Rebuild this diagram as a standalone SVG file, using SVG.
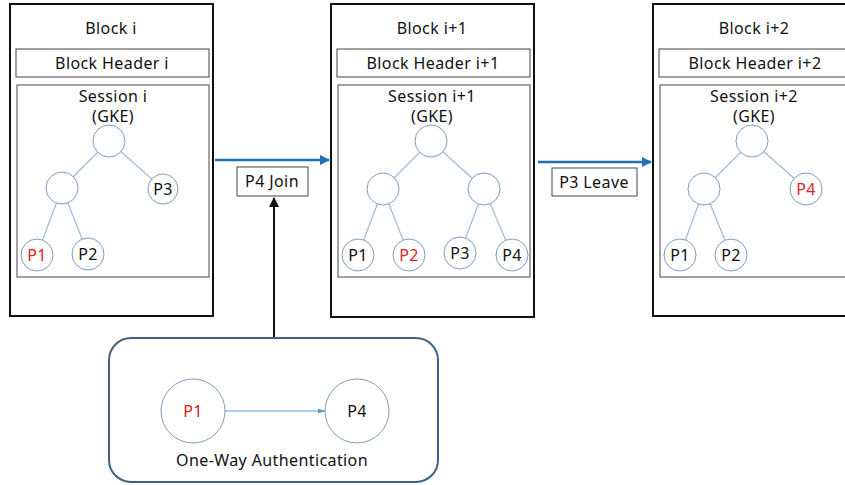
<svg xmlns="http://www.w3.org/2000/svg" width="845" height="485" viewBox="0 0 845 485">
<style>
text{font-family:"Noto Sans","Liberation Sans",Arial,sans-serif;font-size:16px;letter-spacing:0.4px;fill:#111;text-anchor:middle}
.red{fill:#e0201c}
.blk{fill:#fff;stroke:#111;stroke-width:2}
.hdr{fill:#fff;stroke:#444;stroke-width:1}
.ses{fill:#fff;stroke:#666;stroke-width:1.2}
.nd{fill:#fff;stroke:#7f9cc0;stroke-width:1}
.ed{stroke:#9dbbdc;stroke-width:1.2;fill:none}
.lbl{fill:#fff;stroke:#444;stroke-width:1}
</style>
<defs>
<marker id="ab" viewBox="0 0 10 10" refX="9" refY="5" markerWidth="4" markerHeight="4" orient="auto"><path d="M0,0L10,5L0,10z" fill="#1f6fb5"/></marker>
<marker id="ak" viewBox="0 0 10 10" refX="9" refY="5" markerWidth="5" markerHeight="5" orient="auto"><path d="M0,0L10,5L0,10z" fill="#111"/></marker>
<marker id="al" viewBox="0 0 10 10" refX="9" refY="5" markerWidth="8" markerHeight="8" orient="auto"><path d="M0,2L10,5L0,8z" fill="#5b9bd5"/></marker>
</defs>

<g id="block-i">
<rect class="blk" x="10" y="4" width="203" height="312"/>
<text x="111" y="34">Block i</text>
<rect class="hdr" x="16" y="49" width="193" height="28"/>
<text x="112" y="69">Block Header i</text>
<rect class="ses" x="17" y="85" width="192" height="192"/>
<text x="113" y="102">Session i</text>
<text x="113" y="122">(GKE)</text>
<path class="ed" d="M109,141L62,188M109,141L163,189M62,188L37,255M62,188L88,254"/>
<circle class="nd" cx="109" cy="141" r="16"/>
<circle class="nd" cx="62" cy="188" r="16"/>
<circle class="nd" cx="163" cy="189" r="15"/>
<circle class="nd" cx="37" cy="255" r="16"/>
<circle class="nd" cx="88" cy="254" r="16"/>
<text x="163" y="195">P3</text>
<text class="red" x="37" y="261">P1</text>
<text x="88" y="260">P2</text>
</g>

<g id="block-i1">
<rect class="blk" x="331" y="4" width="203" height="313"/>
<text x="432" y="34">Block i+1</text>
<rect class="hdr" x="337" y="49" width="193" height="28"/>
<text x="433" y="69">Block Header i+1</text>
<rect class="ses" x="338" y="85" width="192" height="192"/>
<text x="432" y="102">Session i+1</text>
<text x="432" y="122">(GKE)</text>
<path class="ed" d="M431,141L383,189M431,141L484,189M383,189L358,255M383,189L409,255M484,189L460,253M484,189L512,255"/>
<circle class="nd" cx="431" cy="141" r="16"/>
<circle class="nd" cx="383" cy="189" r="16"/>
<circle class="nd" cx="484" cy="189" r="16"/>
<circle class="nd" cx="358" cy="255" r="16"/>
<circle class="nd" cx="409" cy="255" r="16"/>
<circle class="nd" cx="460" cy="253" r="16"/>
<circle class="nd" cx="512" cy="255" r="16"/>
<text x="358" y="261">P1</text>
<text class="red" x="409" y="261">P2</text>
<text x="460" y="259">P3</text>
<text x="512" y="261">P4</text>
</g>

<g id="block-i2">
<rect class="blk" x="653" y="4" width="203" height="312"/>
<text x="754" y="34">Block i+2</text>
<rect class="hdr" x="659" y="49" width="193" height="28"/>
<text x="755" y="69">Block Header i+2</text>
<rect class="ses" x="660" y="85" width="192" height="192"/>
<text x="754" y="102">Session i+2</text>
<text x="754" y="122">(GKE)</text>
<path class="ed" d="M752,141L704,189M752,141L806,189M704,189L680,255M704,189L731,255"/>
<circle class="nd" cx="752" cy="141" r="16"/>
<circle class="nd" cx="704" cy="189" r="16"/>
<circle class="nd" cx="806" cy="189" r="16"/>
<circle class="nd" cx="680" cy="255" r="16"/>
<circle class="nd" cx="731" cy="255" r="16"/>
<text class="red" x="806" y="195">P4</text>
<text x="680" y="261">P1</text>
<text x="731" y="261">P2</text>
</g>

<g id="label-join">
<rect class="lbl" x="237" y="167" width="71" height="29"/>
<text x="272" y="187">P4 Join</text>
</g>
<g id="label-leave">
<rect class="lbl" x="552" y="168" width="85" height="28"/>
<text x="594" y="188">P3 Leave</text>
</g>

<g id="auth">
<rect x="109" y="338" width="329" height="144" rx="22" ry="22" fill="#fff" stroke="#41617f" stroke-width="2"/>
<circle class="nd" cx="193" cy="411" r="32"/>
<circle class="nd" cx="357" cy="411" r="32"/>
<text class="red" x="193" y="417">P1</text>
<text x="357" y="417">P4</text>
<text x="272" y="466">One-Way Authentication</text>
</g>

<g id="connectors">
<line x1="215" y1="160" x2="329" y2="160" stroke="#1f6fb5" stroke-width="2.5" marker-end="url(#ab)"/>
<line x1="538" y1="162" x2="651" y2="162" stroke="#1f6fb5" stroke-width="2.5" marker-end="url(#ab)"/>
<line x1="274" y1="337" x2="274" y2="198" stroke="#111" stroke-width="2" marker-end="url(#ak)"/>
<line x1="225" y1="411" x2="325" y2="411" stroke="#5b9bd5" stroke-width="1" marker-end="url(#al)"/>
</g>
</svg>
